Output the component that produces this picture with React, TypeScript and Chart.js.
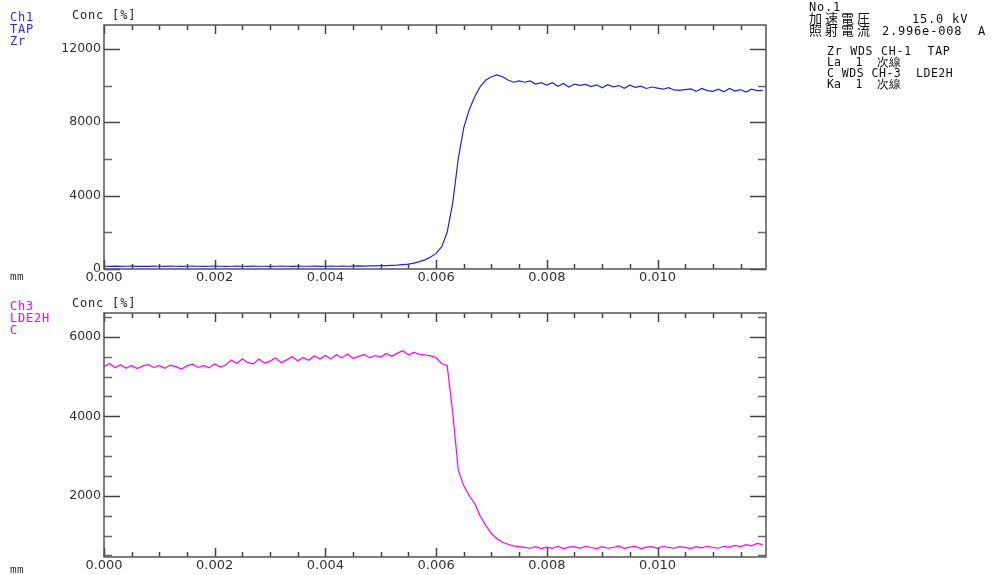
import React, { useEffect, useRef } from 'react';
import { Chart, registerables } from 'chart.js';
Chart.register(...registerables);

// ---- data ----
const xStepMm = 0.0001;
const xMaxMm = 0.01196;
const xLabelTicks = [0, 0.002, 0.004, 0.006, 0.008, 0.010];

const zrConc = [
  150, 140, 155, 145, 150, 160, 140, 150, 145, 155,
  150, 145, 160, 150, 140, 150, 155, 150, 145, 150,
  155, 150, 145, 150, 160, 150, 145, 155, 150, 150,
  145, 150, 155, 150, 145, 160, 150, 150, 155, 145,
  150, 155, 150, 160, 150, 155, 165, 160, 170, 175,
  180, 185, 200, 215, 240, 270, 320, 400, 500, 650,
  850, 1200, 2000, 3600, 6000, 7700, 8700, 9400, 9950, 10300,
  10480, 10580, 10480, 10300, 10180, 10250, 10180, 10250, 10080, 10160,
  10020, 10150, 9960, 10110, 9920, 10080, 10010, 10060, 9940, 10040,
  9880, 10050, 9930, 10000, 9850, 10020, 9900, 9970, 9840, 9920,
  9860, 9800, 9880, 9760, 9740, 9780, 9820, 9680, 9840, 9720,
  9680, 9800, 9660, 9840, 9700, 9780, 9640, 9800, 9720, 9740,
];

const cConc = [
  5250, 5330, 5220, 5300, 5210, 5280, 5200, 5270, 5300, 5230,
  5280, 5210, 5290, 5250, 5190, 5270, 5310, 5230, 5280, 5220,
  5320, 5240, 5290, 5420, 5330, 5450, 5350, 5320, 5440, 5340,
  5390, 5470, 5350, 5420, 5500, 5400, 5480, 5410, 5520, 5440,
  5530, 5450, 5550, 5470, 5570, 5460, 5510, 5560, 5470, 5530,
  5490, 5580, 5510, 5590, 5650, 5550, 5610, 5560, 5550, 5520,
  5480, 5330, 5280, 4100, 2650, 2250, 2000, 1800, 1480, 1250,
  1050, 920, 830, 780, 740, 720, 700, 680, 720, 670,
  710, 680, 730, 670, 710, 720, 680, 730, 700, 670,
  720, 680, 700, 740, 680, 710, 730, 670, 710, 720,
  680, 730, 700, 680, 720, 700, 670, 720, 690, 730,
  700, 680, 730, 710, 750, 720, 770, 740, 800, 770,
];

const zrYTicks = [0, 4000, 8000, 12000];
const cYTicks = [2000, 4000, 6000];

const MONO = '"DejaVu Sans Mono", monospace';
const SANS = '"DejaVu Sans", sans-serif';
const CJK = '"Noto Sans CJK JP", "DejaVu Sans Mono", monospace';

type PanelCfg = {
  values: number[];
  color: string;
  yMin: number;
  yMax: number;
  yTicks: number[];
  yMajor: number;
  yMinor: number;
  height: number;
  areaTop: number;
  areaBottom: number;
};

function makeTickPlugin(cfg: PanelCfg) {
  return {
    id: 'frameTicks',
    afterDraw(chart: any) {
      const { ctx, chartArea: a, scales } = chart;
      const xs = scales.x;
      const ys = scales.y;
      ctx.save();
      const xMinor = 0.0005;
      const n = Math.floor(xMaxMm / xMinor + 1e-6);
      for (let k = 0; k <= n; k++) {
        const v = k * xMinor;
        const px = Math.round(xs.getPixelForValue(v)) + 0.5;
        const major = k % 4 === 0;
        const len = major ? 9 : 5;
        ctx.strokeStyle = '#444';
        ctx.lineWidth = 1.5;
        ctx.beginPath();
        ctx.moveTo(px, a.bottom);
        ctx.lineTo(px, a.bottom - len);
        ctx.moveTo(px, a.top);
        ctx.lineTo(px, a.top + len);
        ctx.stroke();
      }
      const first = Math.ceil(cfg.yMin / cfg.yMinor) * cfg.yMinor;
      for (let v = first; v <= cfg.yMax; v += cfg.yMinor) {
        const py = Math.round(ys.getPixelForValue(v)) + 0.5;
        const major = Math.abs(v % cfg.yMajor) < 1e-6;
        const len = major ? 16 : 8;
        ctx.strokeStyle = major ? '#444' : '#666';
        ctx.lineWidth = 1.5;
        ctx.beginPath();
        ctx.moveTo(a.left, py);
        ctx.lineTo(a.left + len, py);
        ctx.moveTo(a.right, py);
        ctx.lineTo(a.right - len, py);
        ctx.stroke();
      }
      ctx.strokeStyle = '#555';
      ctx.lineWidth = 1.5;
      ctx.strokeRect(a.left, a.top, a.right - a.left, a.bottom - a.top);
      ctx.restore();
    },
  };
}

function Panel(props: PanelCfg & { top: number }) {
  const ref = useRef<HTMLCanvasElement | null>(null);
  useEffect(() => {
    const cfg = props;
    const canvas = ref.current!;
    const chart = new Chart(canvas, {
      type: 'line',
      data: {
        datasets: [
          {
            data: cfg.values.map((v, i) => ({ x: i * xStepMm, y: v })),
            borderColor: cfg.color,
            borderWidth: 1.2,
            pointRadius: 0,
            tension: 0,
            fill: false,
          },
        ],
      },
      options: {
        animation: false,
        responsive: false,
        devicePixelRatio: 1,
        layout: { padding: { left: 0, right: 995 - 766, top: cfg.areaTop, bottom: 0 } },
        plugins: { legend: { display: false }, tooltip: { enabled: false } },
        events: [],
        scales: {
          x: {
            type: 'linear',
            min: 0,
            max: xMaxMm,
            grid: { display: false, drawTicks: false },
            border: { display: false },
            afterBuildTicks: (s: any) => {
              s.ticks = xLabelTicks.map((v) => ({ value: v }));
            },
            afterFit: (s: any) => {
              s.height = cfg.height - cfg.areaBottom;
            },
            ticks: {
              callback: (v: any) => Number(v).toFixed(3),
              font: { family: SANS, size: 13 },
              color: '#333',
              padding: 1,
              maxRotation: 0,
              autoSkip: false,
            },
          },
          y: {
            type: 'linear',
            min: cfg.yMin,
            max: cfg.yMax,
            grid: { display: false, drawTicks: false },
            border: { display: false },
            afterBuildTicks: (s: any) => {
              s.ticks = cfg.yTicks.map((v) => ({ value: v }));
            },
            afterFit: (s: any) => {
              s.width = 104;
            },
            ticks: {
              callback: (v: any) => String(v),
              font: { family: SANS, size: 12.5 },
              color: '#333',
              padding: 3,
            },
          },
        },
      } as any,
      plugins: [makeTickPlugin(cfg)],
    });
    return () => chart.destroy();
  }, []);
  return (
    <canvas
      ref={ref}
      width={995}
      height={props.height}
      style={{ position: 'absolute', left: 0, top: props.top, width: 995, height: props.height }}
    />
  );
}

const txt = (
  s: string,
  left: number,
  top: number,
  color = '#222',
  font = MONO,
  size = 12,
  ls = 0.8
) => (
  <div
    style={{
      position: 'absolute',
      left,
      top,
      color,
      fontFamily: font,
      fontSize: size,
      letterSpacing: ls,
      lineHeight: '12px',
      whiteSpace: 'pre',
    }}
  >
    {s}
  </div>
);

export default function App() {
  const blue = '#2f2fd8';
  const magenta = '#ff00ff';
  return (
    <div style={{ position: 'absolute', left: 0, top: 0, width: 995, height: 575, background: '#fff', overflow: 'hidden' }}>
      <Panel
        top={0}
        height={290}
        areaTop={25}
        areaBottom={269}
        values={zrConc}
        color="#2323d0"
        yMin={0}
        yMax={13300}
        yTicks={zrYTicks}
        yMajor={4000}
        yMinor={2000}
      />
      <Panel
        top={290}
        height={285}
        areaTop={23}
        areaBottom={267}
        values={cConc}
        color={magenta}
        yMin={460}
        yMax={6600}
        yTicks={cYTicks}
        yMajor={2000}
        yMinor={500}
      />
      {txt('Ch1', 10, 11, blue)}
      {txt('TAP', 10, 23, blue)}
      {txt('Zr', 10, 35, blue)}
      {txt('Conc [%]', 72, 9)}
      {txt('mm', 10, 271, '#333', MONO, 11, 0.5)}
      {txt('Ch3', 10, 300, magenta)}
      {txt('LDE2H', 10, 312, magenta)}
      {txt('C', 10, 324, magenta)}
      {txt('Conc [%]', 72, 297)}
      {txt('mm', 10, 564, '#333', MONO, 11, 0.5)}

      {txt('No.1', 809, 1, '#111')}
      {txt('加速電圧', 809, 12, '#111', CJK, 13, 3)}
      {txt('15.0 kV', 912, 13, '#111')}
      {txt('照射電流', 809, 24, '#111', CJK, 13, 3)}
      {txt('2.996e-008', 882, 25, '#111')}
      {txt('A', 978, 25, '#111')}
      {txt('Zr WDS CH-1  TAP', 827, 45, '#111', MONO, 11.5, 0.8)}
      {txt('La  1  次線', 827, 56, '#111', MONO, 11.5, 0.2)}
      {txt('C WDS CH-3  LDE2H', 827, 67, '#111', MONO, 11.5, 0.5)}
      {txt('Ka  1  次線', 827, 78, '#111', MONO, 11.5, 0.2)}
    </div>
  );
}
